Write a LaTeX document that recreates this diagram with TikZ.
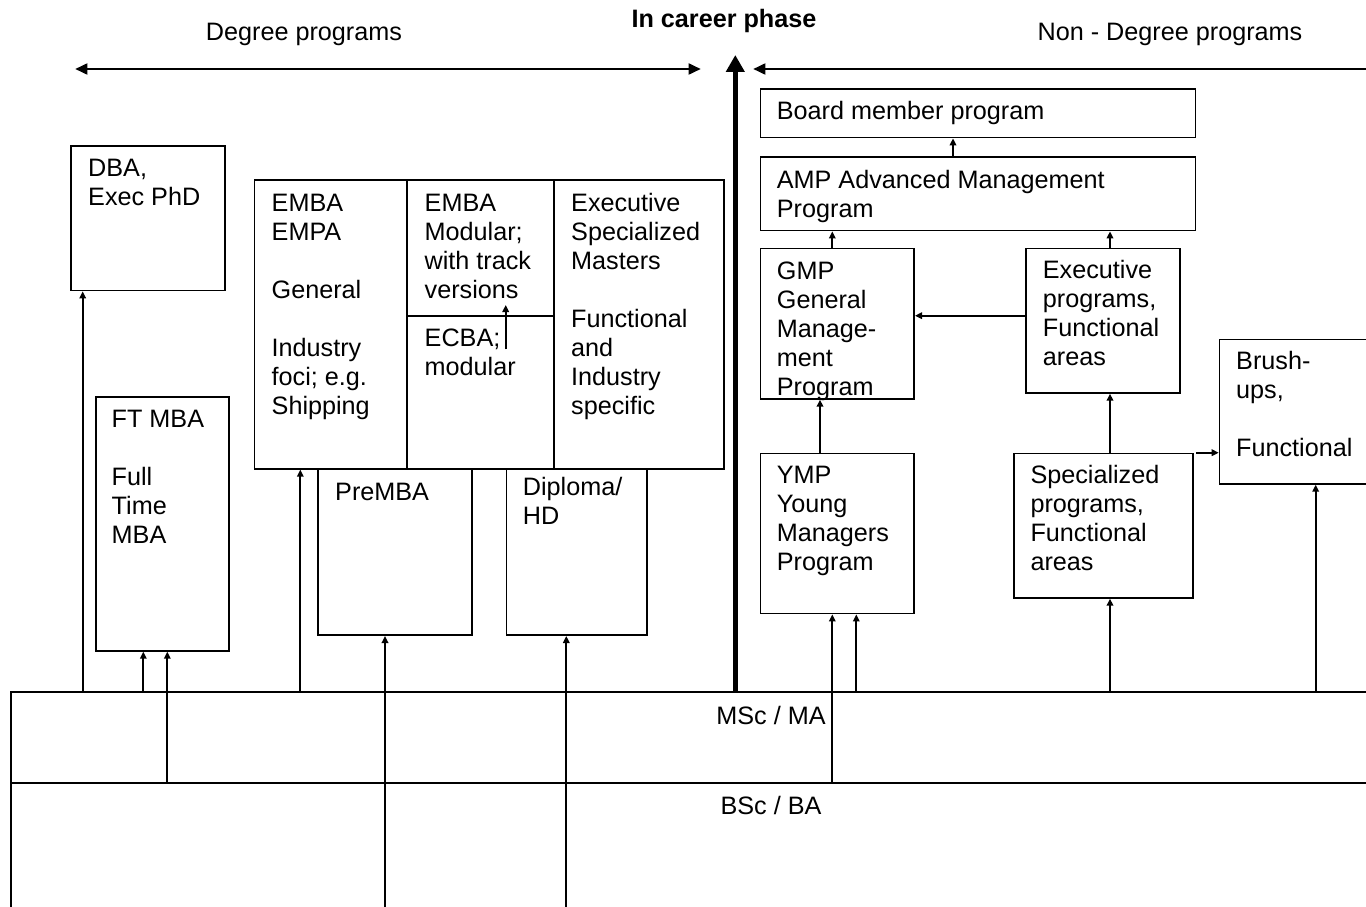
\documentclass[tikz,border=0pt]{standalone}
\usepackage{fontspec}
\setmainfont{Liberation Sans}
\usetikzlibrary{arrows.meta}
\newcommand\myfs{\fontsize{25.2}{29}\selectfont}
\begin{document}
\begin{tikzpicture}[x=1pt,y=-1pt,
  box/.style={draw, line width=1.7pt, inner sep=0pt, anchor=north west},
  txt/.style={anchor=north west, inner sep=0pt, align=left, font=\myfs},
  ctxt/.style={anchor=base, inner sep=0pt, font=\myfs},
  ln/.style={line width=1.7pt},
  arr/.style={line width=1.7pt, -{Triangle[length=7pt,width=6.5pt]}},
  toparr/.style={line width=1.8pt},
  bigarr/.style={line width=5.3pt, -{Triangle[length=17pt,width=18pt]}}]
\useasboundingbox (0,0) rectangle (1366,907);
\clip (0,0) rectangle (1366,907);
\fill[white] (0,0) rectangle (1366,907);

% headers
\node[ctxt] (hdeg) at (304,40.7) {Degree programs};
\node[ctxt] (hnon) at (1170,40.7) {Non - Degree programs};
\node[ctxt, font=\myfs\bfseries] (hcar) at (724,27.7) {In career phase};

% boxes
\node[box, minimum width=153.7pt, minimum height=144.7pt] (dba) at (70.3,145) {};
\node[box, minimum width=469.6pt, minimum height=289pt] (emba) at (253.7,179) {};
\node[box, minimum width=133.3pt, minimum height=253.7pt] (ftmba) at (95,396.3) {};
\node[box, minimum width=153.7pt, minimum height=166.3pt] (premba) at (317.3,468) {};
\node[box, minimum width=140.3pt, minimum height=166.3pt] (diploma) at (505.7,468) {};
\node[box, minimum width=435pt, minimum height=48.4pt] (board) at (759.7,88.3) {};
\node[box, minimum width=435pt, minimum height=73.4pt] (amp) at (759.7,156.3) {};
\node[box, minimum width=153.6pt, minimum height=150.3pt] (gmp) at (759.7,247.7) {};
\node[box, minimum width=153.7pt, minimum height=144.3pt] (exec) at (1025.3,247.7) {};
\node[box, minimum width=200pt, minimum height=144.3pt] (brush) at (1218.7,338.7) {};
\node[box, minimum width=153.6pt, minimum height=160pt] (ymp) at (759.7,452.7) {};
\node[box, minimum width=179.3pt, minimum height=144.3pt] (spec) at (1013,452.7) {};
\node[box, minimum width=1400pt, minimum height=91pt] (msc) at (10,691.3) {};
\node[box, minimum width=1400pt, minimum height=200pt] (bsc) at (10,782.3) {};

% dividers of the EMBA block
\coordinate (d1) at (407.3,0);
\coordinate (d2) at (554.3,0);
\coordinate (hd) at (0,315.7);
\draw[ln] (d1 |- emba.north) -- (d1 |- emba.south);
\draw[ln] (d2 |- emba.north) -- (d2 |- emba.south);
\draw[ln] (d1 |- hd) -- (d2 |- hd);

% texts
\node[txt] (tdba) at (88,156.4) {\strut DBA,\\Exec PhD};
\node[txt] (tc1) at (271.5,190.7) {\strut EMBA\\EMPA\\[29pt]General\\[29pt]Industry\\foci; e.g.\\Shipping};
\node[txt] (tc2) at (424.5,190.7) {\strut EMBA\\Modular;\\with track\\versions};
\node[txt] (tecba) at (424.5,326.4) {\strut ECBA;\\modular};
\node[txt] (tc3) at (571,190.7) {\strut Executive\\Specialized\\Masters\\[29pt]Functional\\and\\Industry\\specific};
\node[txt] (tft) at (111.5,407.4) {\strut FT MBA\\[29pt]Full\\Time\\MBA};
\node[txt] (tpre) at (335,479.7) {\strut PreMBA};
\node[txt] (tdip) at (522.7,475.4) {\strut Diploma/\\HD};
\node[txt] (tboard) at (776.7,99) {\strut Board member program};
\node[txt] (tamp) at (776.7,168) {\strut AMP Advanced Management\\Program};
\node[txt] (tgmp) at (776.7,259) {\strut GMP\\General\\Manage-\\ment\\Program};
\node[txt] (texec) at (1042.7,258) {\strut Executive\\programs,\\Functional\\areas};
\node[txt] (tbrush) at (1236,349) {\strut Brush-\\ups,\\[29pt]Functional};
\node[txt] (tymp) at (776.7,463) {\strut YMP\\Young\\Managers\\Program};
\node[txt] (tspec) at (1030.3,463) {\strut Specialized\\programs,\\Functional\\areas};
\node[ctxt] (tmsc) at (771,724) {MSc / MA};
\node[ctxt] (tbsc) at (771,814.3) {BSc / BA};

% top arrows
\coordinate (tl) at (75.3,69);
\coordinate (tr) at (700.7,69);
\coordinate (rr) at (1366,69);
\coordinate (rl) at (753.3,69);
\coordinate (ct) at (735.3,55);
\draw[toparr, {Triangle[length=12pt,width=11pt]}-{Triangle[length=12pt,width=11pt]}] (tl) -- (tr);
\draw[toparr, -{Triangle[length=12pt,width=11pt]}] (rr) -- (rl);
\draw[bigarr] (ct |- msc.north) -- (ct);

% vertical connectors
\coordinate (x1) at (82.7,0);
\coordinate (x2) at (143.3,0);
\coordinate (x3) at (167.3,0);
\coordinate (x4) at (300.3,0);
\coordinate (x5) at (385,907);
\coordinate (x6) at (566.3,907);
\coordinate (e1) at (505.7,349.3);
\coordinate (e2) at (505.7,305);
\coordinate (x7) at (832.3,0);
\coordinate (x8) at (856.3,0);
\coordinate (x9) at (820,0);
\coordinate (x10) at (953,0);
\coordinate (x11) at (1110,0);
\coordinate (x12) at (1315.7,0);
\coordinate (hx) at (0,315.7);

\draw[arr] (x1 |- msc.north) -- (x1 |- dba.south);
\draw[arr] (x2 |- msc.north) -- (x2 |- ftmba.south);
\draw[arr] (x3 |- bsc.north) -- (x3 |- ftmba.south);
\draw[arr] (x4 |- msc.north) -- (x4 |- emba.south);
\draw[arr] (x5) -- (x5 |- premba.south);
\draw[arr] (x6) -- (x6 |- diploma.south);
\draw[arr] (e1) -- (e2);
\draw[arr] (x7 |- bsc.north) -- (x7 |- ymp.south);
\draw[arr] (x8 |- msc.north) -- (x8 |- ymp.south);
\draw[arr] (x9 |- ymp.north) -- (x9 |- gmp.south);
\draw[arr] (x7 |- gmp.north) -- (x7 |- amp.south);
\draw[arr] (x10 |- amp.north) -- (x10 |- board.south);
\draw[arr] (x11 |- exec.north) -- (x11 |- amp.south);
\draw[arr] (x11 |- spec.north) -- (x11 |- exec.south);
\draw[arr] (x11 |- msc.north) -- (x11 |- spec.south);
\draw[arr] (x12 |- msc.north) -- (x12 |- brush.south);
\draw[arr] (exec.west |- hx) -- (gmp.east |- hx);
\draw[arr] ([xshift=2.4pt]spec.north east) -- (brush.west |- spec.north);
\end{tikzpicture}
\end{document}
